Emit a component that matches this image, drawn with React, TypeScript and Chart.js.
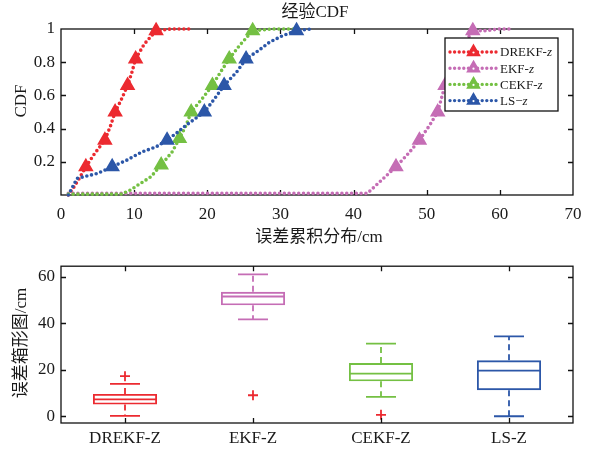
import React, { useEffect, useRef } from 'react';
import { Chart, registerables } from 'chart.js';
Chart.register(...registerables);

const SERIF = "'Liberation Serif', 'Noto Sans CJK SC', serif";
const TEXT = '#1a1a1a';

// ---------- CDF data ----------
const seriesNames = ['DREKF-', 'EKF-', 'CEKF-', 'LS\u2212'];
const seriesColors = ['#ec2a30', '#c56db5', '#74c043', '#2c57a8'];

const dreX = [1, 1.8, 2.5, 3.4, 4.6, 6.0, 6.8, 7.4, 8.3, 9.1, 9.7, 10.2, 11.4, 13.0, 15.0, 17.5];
const dreP = [0, 0.05, 0.1, 0.17, 0.25, 0.33, 0.42, 0.5, 0.58, 0.66, 0.74, 0.82, 0.91, 0.99, 1.0, 1.0];
const dreMarks = [3, 5, 7, 9, 11, 13];

const ekfX = [1, 20, 41.9, 43.6, 45.8, 47.5, 49.0, 50.4, 51.5, 52.0, 52.5, 53.1, 53.8, 55.0, 56.3, 58.0, 60.0, 61.4];
const ekfP = [0.01, 0.01, 0.01, 0.08, 0.17, 0.25, 0.33, 0.42, 0.5, 0.58, 0.66, 0.74, 0.82, 0.9, 0.99, 0.99, 1.0, 1.0];
const ekfMarks = [4, 6, 8, 10, 12, 14];

const cekfX = [1, 8.2, 9.5, 10.7, 12.3, 13.7, 15.2, 16.2, 17.1, 17.8, 19.3, 20.7, 21.8, 23.0, 24.4, 26.2, 29.0, 32.0];
const cekfP = [0.005, 0.005, 0.03, 0.065, 0.11, 0.18, 0.26, 0.34, 0.42, 0.5, 0.58, 0.66, 0.74, 0.82, 0.9, 0.99, 1.0, 1.0];
const cekfMarks = [5, 7, 9, 11, 13, 15];

const lsX = [1, 2.2, 5.0, 7.0, 9.0, 11.1, 13.0, 14.5, 16.0, 17.1, 19.6, 21.0, 22.3, 24.0, 25.3, 27.0, 28.5, 30.3, 32.2, 34.2];
const lsP = [0, 0.1, 0.13, 0.17, 0.21, 0.26, 0.29, 0.33, 0.38, 0.42, 0.5, 0.58, 0.66, 0.74, 0.82, 0.87, 0.92, 0.96, 0.99, 1.0];
const lsMarks = [3, 7, 10, 12, 14, 18];

const cdfX = [dreX, ekfX, cekfX, lsX];
const cdfP = [dreP, ekfP, cekfP, lsP];
const cdfMarks = [dreMarks, ekfMarks, cekfMarks, lsMarks];

const cdfXTicks = [0, 10, 20, 30, 40, 50, 60, 70];
const cdfYTicks = [0.2, 0.4, 0.6, 0.8, 1];

// ---------- Box plot data ----------
const boxCategories = ['DREKF-Z', 'EKF-Z', 'CEKF-Z', 'LS-Z'];
const boxLow = [0.3, 41.7, 8.4, 0.1];
const boxQ1 = [5.1, 47.7, 15.1, 11.3];
const boxMedian = [7.3, 51.5, 18.4, 19.7];
const boxQ3 = [9.7, 53.5, 22.9, 24.1];
const boxHigh = [14.0, 61.0, 31.3, 34.4];
const outlierCats = ['DREKF-Z', 'EKF-Z', 'CEKF-Z'];
const outlierVals = [17.3, 9.1, 0.7];
const boxYTicks = [0, 20, 40, 60];

function tri(ctx: CanvasRenderingContext2D, x: number, y: number, r: number, color: string) {
  ctx.save();
  ctx.setLineDash([]);
  ctx.fillStyle = color;
  ctx.strokeStyle = color;
  ctx.lineWidth = 1.5;
  ctx.beginPath();
  ctx.moveTo(x, y - r);
  ctx.lineTo(x + 0.866 * r, y + 0.5 * r);
  ctx.lineTo(x - 0.866 * r, y + 0.5 * r);
  ctx.closePath();
  ctx.fill();
  ctx.stroke();
  ctx.fillStyle = '#fff';
  ctx.beginPath();
  ctx.arc(x, y + 0.5, 1.1, 0, Math.PI * 2);
  ctx.fill();
  ctx.restore();
}

function frameAndTicks(chart: any, xVals: number[], yVals: number[]) {
  const ctx: CanvasRenderingContext2D = chart.ctx;
  const { left, right, top, bottom } = chart.chartArea;
  const xs = chart.scales.x;
  const ys = chart.scales.y;
  ctx.save();
  ctx.strokeStyle = '#111';
  ctx.lineWidth = 1.3;
  ctx.setLineDash([]);
  ctx.strokeRect(left, top, right - left, bottom - top);
  ctx.beginPath();
  const L = 5;
  xVals.forEach((v) => {
    const px = Math.round(xs.getPixelForValue(v)) + 0.5;
    ctx.moveTo(px, bottom);
    ctx.lineTo(px, bottom - L);
    ctx.moveTo(px, top);
    ctx.lineTo(px, top + L);
  });
  yVals.forEach((v) => {
    const py = Math.round(ys.getPixelForValue(v)) + 0.5;
    ctx.moveTo(left, py);
    ctx.lineTo(left + L, py);
    ctx.moveTo(right, py);
    ctx.lineTo(right - L, py);
  });
  ctx.stroke();
  ctx.restore();
}

export default function App() {
  const topRef = useRef<HTMLCanvasElement>(null);
  const botRef = useRef<HTMLCanvasElement>(null);

  useEffect(() => {
    const topPlugin = {
      id: 'topDecor',
      beforeDatasetsDraw(chart: any) {
        frameAndTicks(chart, [10, 20, 30, 40, 50, 60], [0.2, 0.4, 0.6, 0.8]);
      },
      afterDraw(chart: any) {
        const ctx: CanvasRenderingContext2D = chart.ctx;
        ctx.save();
        ctx.fillStyle = TEXT;
        ctx.font = `17px ${SERIF}`;
        ctx.textAlign = 'center';
        ctx.textBaseline = 'middle';
        ctx.fillText('经验CDF', 315, 13);
        ctx.fillText('误差累积分布/cm', 319, 238);
        ctx.save();
        ctx.translate(22, 101);
        ctx.rotate(-Math.PI / 2);
        ctx.fillText('CDF', 0, 0);
        ctx.restore();

        // legend
        const lx0 = 445, ly0 = 38, lx1 = 558, ly1 = 111;
        ctx.fillStyle = '#fff';
        ctx.fillRect(lx0, ly0, lx1 - lx0, ly1 - ly0);
        ctx.strokeStyle = '#111';
        ctx.lineWidth = 1.3;
        ctx.strokeRect(lx0, ly0, lx1 - lx0, ly1 - ly0);
        seriesNames.forEach((name, i) => {
          const y = 52 + i * 16.2;
          const c = seriesColors[i];
          ctx.save();
          ctx.strokeStyle = c;
          ctx.lineWidth = 3.4;
          ctx.lineCap = 'round';
          ctx.setLineDash([0, 4.6]);
          ctx.beginPath();
          ctx.moveTo(450, y);
          ctx.lineTo(497, y);
          ctx.stroke();
          ctx.restore();
          tri(ctx, 473.5, y, 7, c);
          ctx.fillStyle = TEXT;
          ctx.textAlign = 'left';
          ctx.font = `13px ${SERIF}`;
          ctx.fillText(name, 500, y + 1);
          const w = ctx.measureText(name).width;
          ctx.font = `italic 13px ${SERIF}`;
          ctx.fillText('z', 500 + w, y + 1);
        });
        ctx.restore();
      },
    };

    const datasets = seriesNames.map((name, i) => ({
      label: name + 'z',
      data: cdfX[i].map((x, j) => ({ x, y: cdfP[i][j] })),
      showLine: true,
      clip: false as any,
      borderColor: seriesColors[i],
      backgroundColor: seriesColors[i],
      borderWidth: 3.6,
      borderDash: [0, 4.8],
      borderCapStyle: 'round' as const,
      tension: 0,
      pointStyle: 'triangle' as const,
      pointRadius: (c: any) => (cdfMarks[i].includes(c.dataIndex) ? 7.5 : 0),
      pointHoverRadius: 0,
      pointBorderWidth: 1.5,
      pointBackgroundColor: seriesColors[i],
      pointBorderColor: seriesColors[i],
      order: 3 - i,
    }));

    const tickFont = { family: SERIF, size: 17 };

    const c1 = new Chart(topRef.current as HTMLCanvasElement, {
      type: 'scatter',
      data: { datasets: datasets as any },
      options: {
        responsive: false,
        animation: false,
        events: [],
        layout: { padding: { top: 29, right: 18, left: 0, bottom: 0 } },
        plugins: { legend: { display: false }, title: { display: false }, tooltip: { enabled: false } },
        scales: {
          x: {
            type: 'linear',
            min: 0,
            max: 70,
            grid: { display: false, drawTicks: false },
            border: { display: false },
            afterBuildTicks: (s: any) => { s.ticks = cdfXTicks.map((v) => ({ value: v })); },
            afterFit: (s: any) => { s.height = 55; },
            ticks: { font: tickFont, color: TEXT, padding: 9, maxRotation: 0, autoSkip: false, callback: (v: any) => String(v) },
          },
          y: {
            type: 'linear',
            min: 0,
            max: 1,
            grid: { display: false, drawTicks: false },
            border: { display: false },
            afterBuildTicks: (s: any) => { s.ticks = cdfYTicks.map((v) => ({ value: v })); },
            afterFit: (s: any) => { s.width = 61; },
            ticks: { font: tickFont, color: TEXT, padding: 6, autoSkip: false, callback: (v: any) => String(v) },
          },
        },
      },
      plugins: [topPlugin],
    });

    const botPlugin = {
      id: 'boxDecor',
      afterDatasetsDraw(chart: any) {
        const ctx: CanvasRenderingContext2D = chart.ctx;
        const ys = chart.scales.y;
        const meta = chart.getDatasetMeta(0);
        ctx.save();
        meta.data.forEach((bar: any, i: number) => {
          const { x, width } = bar.getProps(['x', 'width'], true);
          const c = seriesColors[i];
          ctx.strokeStyle = c;
          ctx.lineWidth = 1.8;
          ctx.setLineDash([]);
          ctx.beginPath();
          const pm = ys.getPixelForValue(boxMedian[i]);
          ctx.moveTo(x - width / 2, pm);
          ctx.lineTo(x + width / 2, pm);
          const ph = ys.getPixelForValue(boxHigh[i]);
          const pl = ys.getPixelForValue(boxLow[i]);
          ctx.moveTo(x - 15, ph);
          ctx.lineTo(x + 15, ph);
          ctx.moveTo(x - 15, pl);
          ctx.lineTo(x + 15, pl);
          ctx.stroke();
          ctx.setLineDash([6, 4]);
          ctx.beginPath();
          ctx.moveTo(x, ys.getPixelForValue(boxQ3[i]));
          ctx.lineTo(x, ph);
          ctx.moveTo(x, ys.getPixelForValue(boxQ1[i]));
          ctx.lineTo(x, pl);
          ctx.stroke();
        });
        ctx.restore();
      },
      afterDraw(chart: any) {
        const ctx: CanvasRenderingContext2D = chart.ctx;
        const xs = chart.scales.x;
        const { left, right, top, bottom } = chart.chartArea;
        ctx.save();
        ctx.strokeStyle = '#111';
        ctx.lineWidth = 1.3;
        ctx.strokeRect(left, top, right - left, bottom - top);
        ctx.beginPath();
        boxCategories.forEach((_, i) => {
          const px = Math.round(xs.getPixelForValue(i)) + 0.5;
          ctx.moveTo(px, top);
          ctx.lineTo(px, top + 5);
          ctx.moveTo(px, bottom);
          ctx.lineTo(px, bottom - 5);
        });
        boxYTicks.forEach((v) => {
          const py = Math.round(chart.scales.y.getPixelForValue(v)) + 0.5;
          ctx.moveTo(left, py);
          ctx.lineTo(left + 5, py);
          ctx.moveTo(right, py);
          ctx.lineTo(right - 5, py);
        });
        ctx.stroke();
        ctx.fillStyle = TEXT;
        ctx.font = `17px ${SERIF}`;
        ctx.textAlign = 'center';
        ctx.textBaseline = 'middle';
        ctx.translate(22, 93);
        ctx.rotate(-Math.PI / 2);
        ctx.fillText('误差箱形图/cm', 0, 0);
        ctx.restore();
      },
    };

    const c2 = new Chart(botRef.current as HTMLCanvasElement, {
      type: 'bar',
      data: {
        labels: boxCategories,
        datasets: [
          {
            type: 'bar',
            data: boxCategories.map((_, i) => [boxQ1[i], boxQ3[i]]) as any,
            backgroundColor: 'rgba(0,0,0,0)',
            borderColor: seriesColors,
            borderWidth: 1.8,
            borderSkipped: false,
            barPercentage: 0.5,
            categoryPercentage: 1,
            order: 2,
          },
          {
            type: 'line',
            data: outlierCats.map((c, i) => ({ x: c, y: outlierVals[i] })) as any,
            showLine: false,
            pointStyle: 'cross',
            pointRadius: 5,
            pointHoverRadius: 0,
            pointBorderWidth: 1.8,
            borderColor: '#ec2a30',
            backgroundColor: '#ec2a30',
            order: 1,
          },
        ],
      },
      options: {
        responsive: false,
        animation: false,
        events: [],
        layout: { padding: { top: 5, right: 18, left: 0, bottom: 0 } },
        plugins: { legend: { display: false }, title: { display: false }, tooltip: { enabled: false } },
        scales: {
          x: {
            type: 'category',
            grid: { display: false, drawTicks: false },
            border: { display: false },
            afterFit: (s: any) => { s.height = 29; },
            ticks: { font: tickFont, color: TEXT, padding: 5, maxRotation: 0, autoSkip: false },
          },
          y: {
            type: 'linear',
            min: -2.8,
            max: 64.5,
            grid: { display: false, drawTicks: false },
            border: { display: false },
            afterBuildTicks: (s: any) => { s.ticks = boxYTicks.map((v) => ({ value: v })); },
            afterFit: (s: any) => { s.width = 61; },
            ticks: { font: tickFont, color: TEXT, padding: 6, autoSkip: false, callback: (v: any) => String(v) },
          },
        },
      },
      plugins: [botPlugin],
    });

    return () => {
      c1.destroy();
      c2.destroy();
    };
  }, []);

  return (
    <div style={{ position: 'absolute', left: 0, top: 0, width: 591, height: 452, background: '#fff' }}>
      <canvas ref={topRef} width={591} height={250} style={{ display: 'block' }} />
      <canvas ref={botRef} width={591} height={202} style={{ display: 'block' }} />
    </div>
  );
}
